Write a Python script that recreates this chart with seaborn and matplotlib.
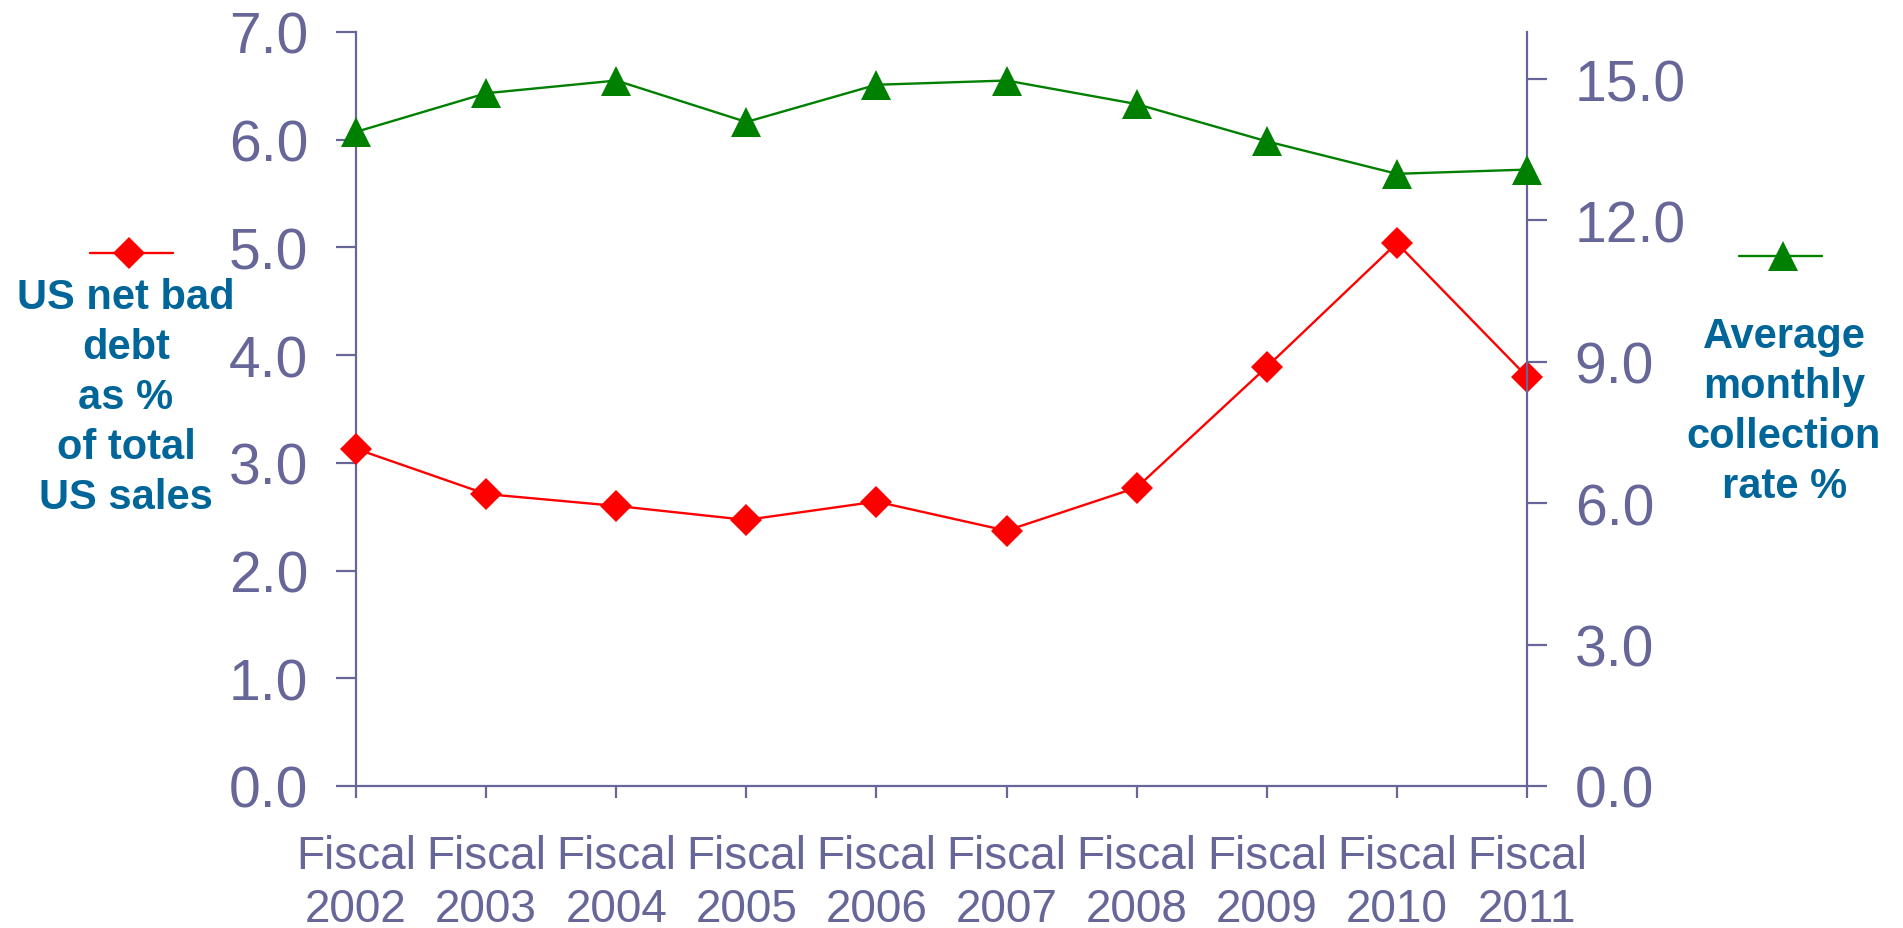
import numpy as np
import pandas as pd
import matplotlib
matplotlib.use("Agg")
import matplotlib.pyplot as plt
from matplotlib.lines import Line2D
from matplotlib.ticker import FormatStrFormatter
import seaborn as sns

# ----------------------------------------------------------
# Data
# ----------------------------------------------------------
years = ["2002", "2003", "2004", "2005", "2006",
         "2007", "2008", "2009", "2010", "2011"]
tick_labels = ["Fiscal\n" + y for y in years]

bad_debt_pct = [3.13, 2.71, 2.60, 2.47, 2.64, 2.37, 2.77, 3.89, 5.04, 3.80]
collection_rate = [13.88, 14.70, 14.97, 14.09, 14.88,
                   14.97, 14.47, 13.68, 12.99, 13.08]

left_label = "US net bad\ndebt\nas %\nof total\nUS sales"
right_label = "Average\nmonthly\ncollection\nrate %"

df = pd.DataFrame({
    "pos": np.arange(len(years)),
    "bad_debt": bad_debt_pct,
    "collection": collection_rate,
})

# ----------------------------------------------------------
# Style
# ----------------------------------------------------------
sns.set_style("white")
plt.rcParams["font.family"] = ["Liberation Sans", "DejaVu Sans"]

AXIS_COL = "#666699"
TEXT_COL = "#006699"
RED = "#ff0000"
GREEN = "#008000"

fig = plt.figure(figsize=(19.03, 9.29), dpi=100)
ax = fig.add_axes([0.1871, 0.1529, 0.6153, 0.8116])
ax2 = ax.twinx()

# ----------------------------------------------------------
# Lines
# ----------------------------------------------------------
sns.lineplot(data=df, x="pos", y="bad_debt", ax=ax, color=RED,
             marker="D", markersize=15.8, markeredgewidth=0,
             markeredgecolor=RED, linewidth=1.7, clip_on=False, zorder=5)
sns.lineplot(data=df, x="pos", y="collection", ax=ax2, color=GREEN,
             marker="^", markersize=22, markeredgewidth=0,
             markeredgecolor=GREEN, linewidth=1.7, clip_on=False, zorder=5)

# ----------------------------------------------------------
# Axes
# ----------------------------------------------------------
ax.set_xlim(0, len(years) - 1)
ax.set_ylim(0, 7)
ax2.set_ylim(0, 16)

ax.set_xticks(df["pos"])
ax.set_xticklabels(tick_labels, fontsize=33, color=AXIS_COL, linespacing=1.25)
ax.set_yticks(np.arange(0, 8, 1))
ax2.set_yticks(np.arange(0, 16, 3))
ax.yaxis.set_major_formatter(FormatStrFormatter("%.1f"))
ax2.yaxis.set_major_formatter(FormatStrFormatter("%.1f"))

for a in (ax, ax2):
    a.set_xlabel("")
    a.set_ylabel("")
    for s in a.spines.values():
        s.set_visible(False)
    a.grid(False)

ax.spines["left"].set_visible(True)
ax.spines["bottom"].set_visible(True)
ax2.spines["right"].set_visible(True)
for s in (ax.spines["left"], ax.spines["bottom"], ax2.spines["right"]):
    s.set_color(AXIS_COL)
    s.set_linewidth(1.6)

ax.tick_params(axis="y", direction="out", length=14.4, width=1.6,
               color=AXIS_COL, labelcolor=AXIS_COL, labelsize=41, pad=20,
               left=True)
ax.tick_params(axis="x", direction="out", length=8.6, width=1.6,
               color=AXIS_COL, labelcolor=AXIS_COL, pad=26, bottom=True)
ax2.tick_params(axis="y", direction="out", length=14.4, width=1.6,
                color=AXIS_COL, labelcolor=AXIS_COL, labelsize=41, pad=20,
                right=True)

# ----------------------------------------------------------
# Side legends
# ----------------------------------------------------------
fig.add_artist(Line2D([0.0473, 0.0909], [0.7266, 0.7266], color=RED,
                      linewidth=1.7, transform=fig.transFigure))
fig.add_artist(Line2D([0.0678], [0.7266], color=RED, marker="D",
                      markersize=15.8, markeredgewidth=0,
                      transform=fig.transFigure))
fig.add_artist(Line2D([0.9138, 0.9574], [0.7234, 0.7234], color=GREEN,
                      linewidth=1.7, transform=fig.transFigure))
fig.add_artist(Line2D([0.9369], [0.7234], color=GREEN, marker="^",
                      markersize=22, markeredgewidth=0,
                      transform=fig.transFigure))

fig.text(0.0662, 0.7008, left_label, ha="center", va="top",
         multialignment="center", fontsize=30, fontweight="bold",
         color=TEXT_COL, linespacing=1.32)
fig.text(0.9375, 0.6588, right_label, ha="center", va="top",
         multialignment="center", fontsize=30, fontweight="bold",
         color=TEXT_COL, linespacing=1.32)

fig.savefig("out.png", dpi=100)
